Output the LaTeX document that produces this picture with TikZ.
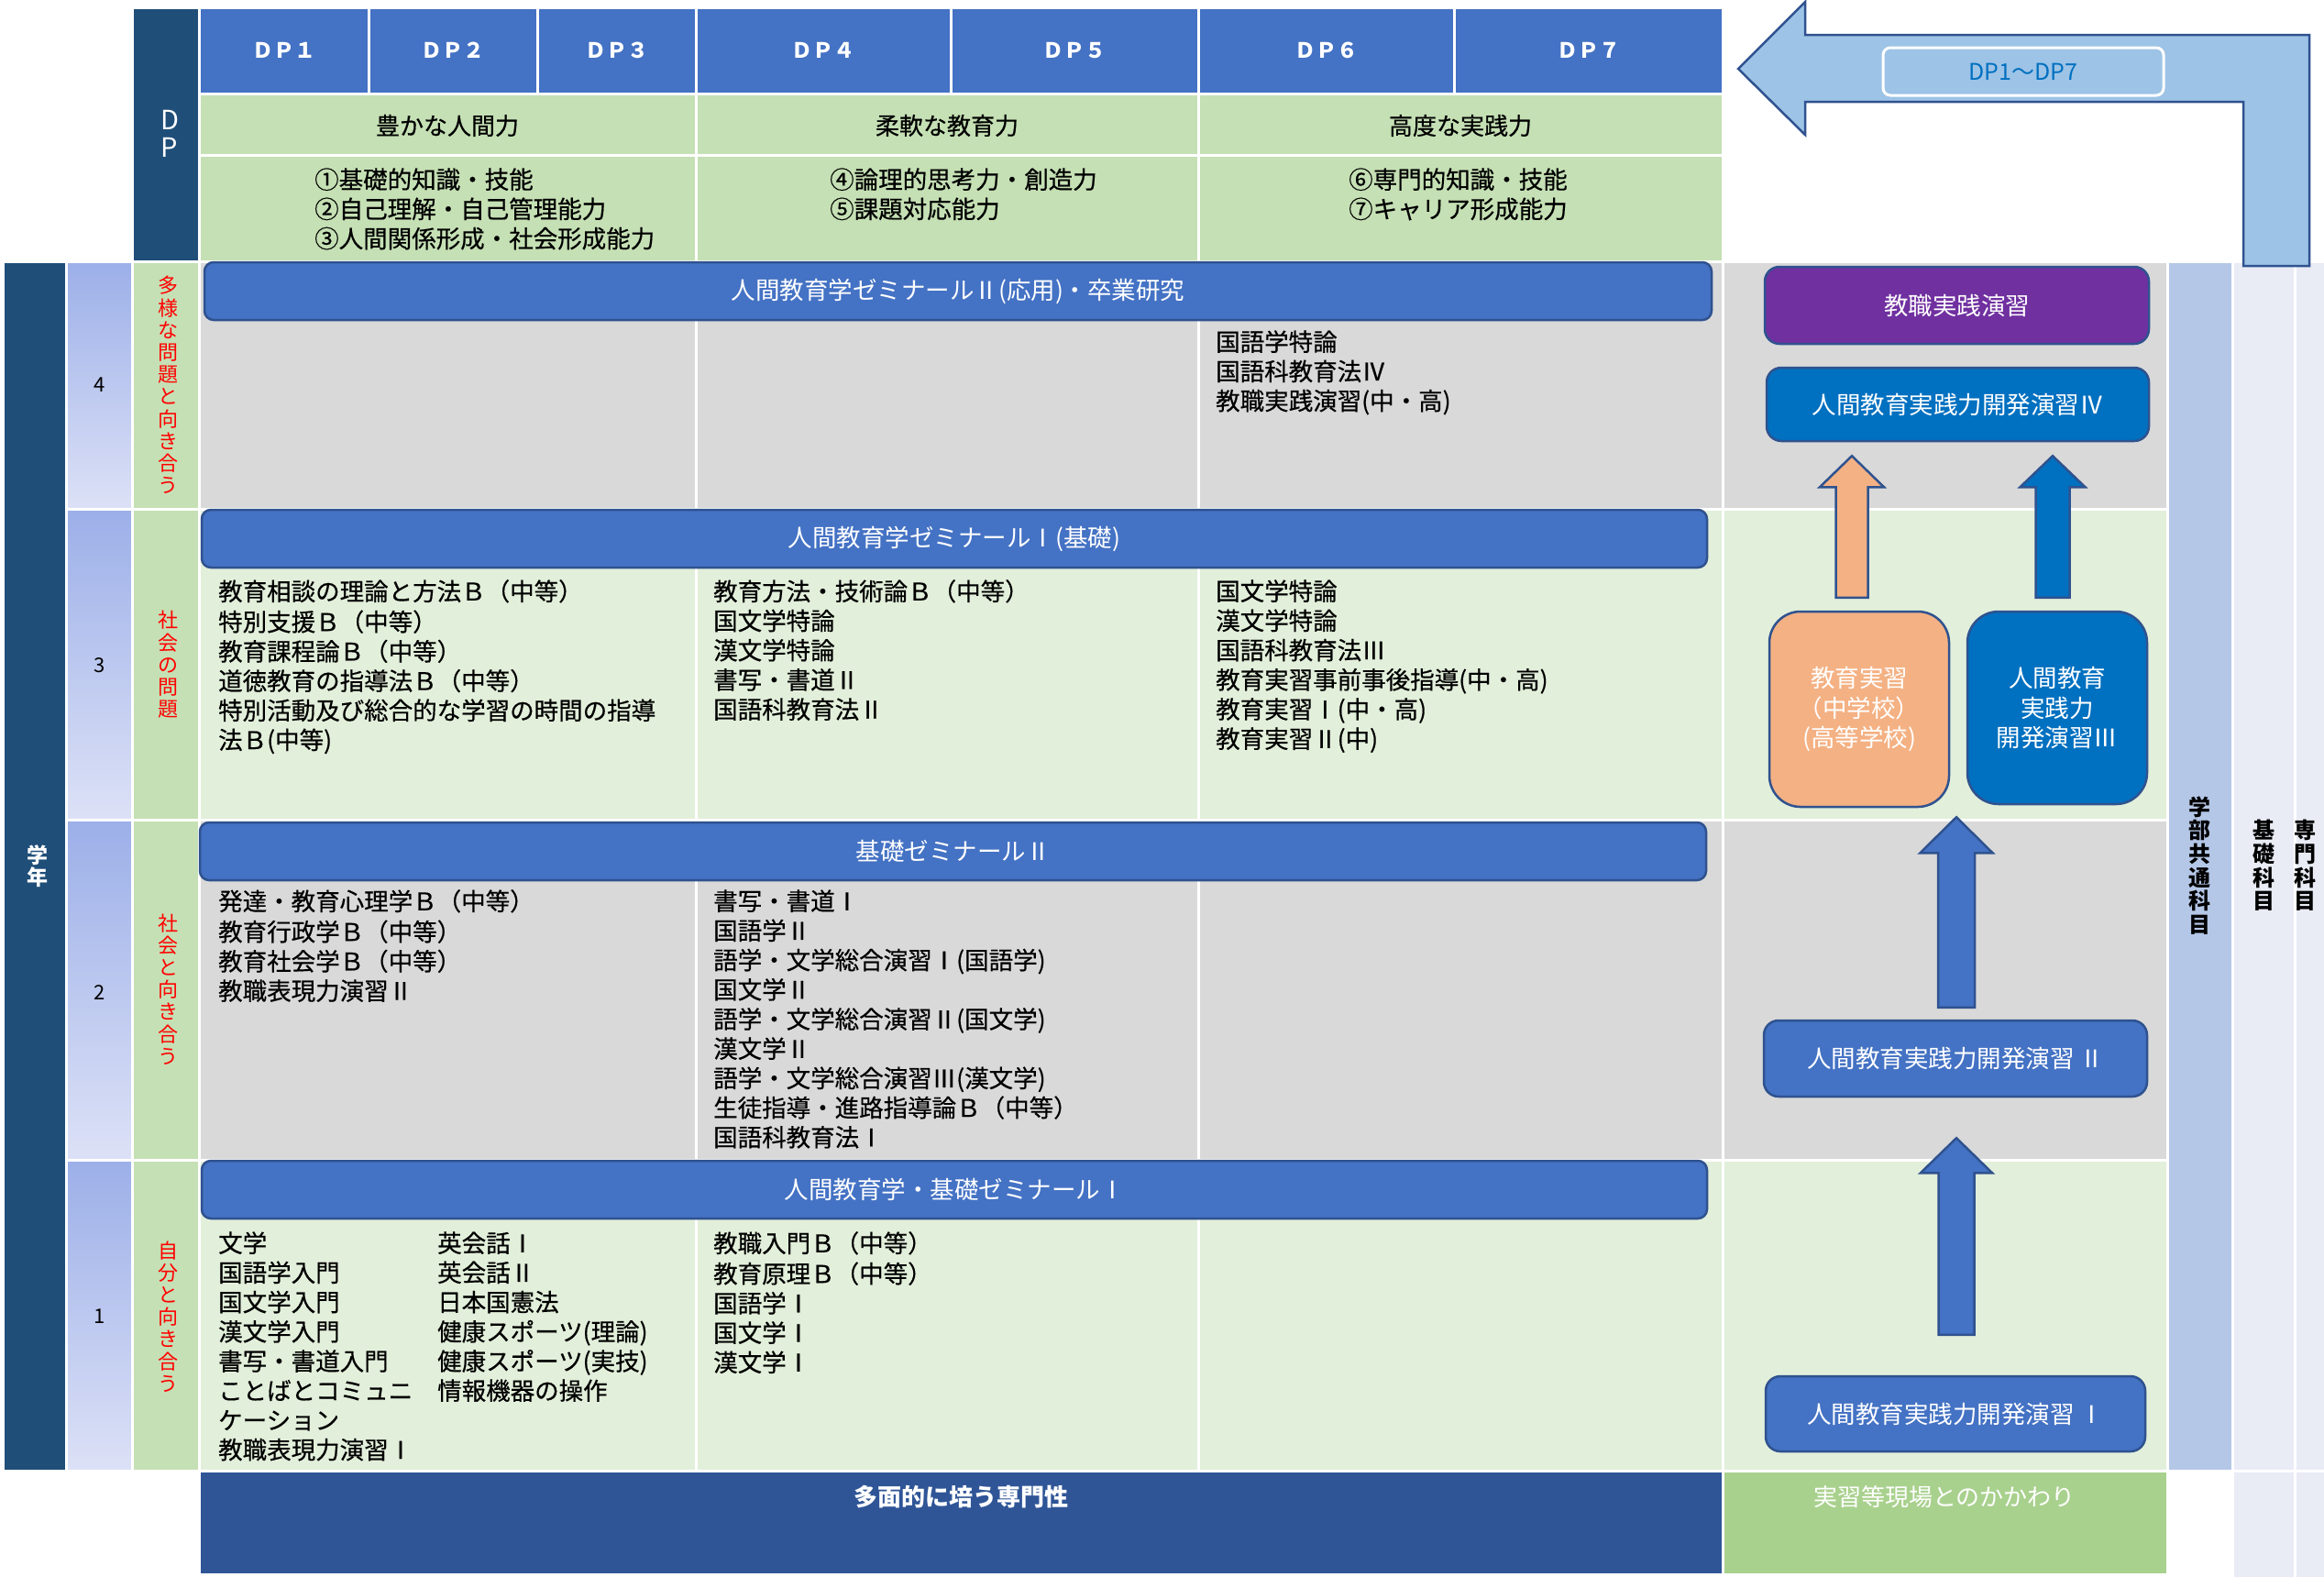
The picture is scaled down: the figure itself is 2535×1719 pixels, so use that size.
\documentclass[tikz,border=0pt]{standalone}
\usepackage{fontspec}
\setmainfont{Noto Sans CJK JP}
\newfontfamily\heavy{Noto Sans CJK JP}[FakeBold=0.5]
\usetikzlibrary{calc}

\definecolor{cNavy}{HTML}{1F4E79}
\definecolor{cHead}{HTML}{4472C4}
\definecolor{cEdge}{HTML}{2F528F}
\definecolor{cGreen}{HTML}{C5E0B4}
\definecolor{cPale}{HTML}{E2EFDA}
\definecolor{cGray}{HTML}{D9D9D9}
\definecolor{cDeep}{HTML}{2F5597}
\definecolor{cLeaf}{HTML}{A9D18E}
\definecolor{cCommon}{HTML}{B4C7E7}
\definecolor{cMist}{HTML}{E9EBF5}
\definecolor{cPurple}{HTML}{7030A0}
\definecolor{cOcean}{HTML}{0070C0}
\definecolor{cPeach}{HTML}{F4B183}
\definecolor{cSky}{HTML}{9DC3E6}
\definecolor{cYearTop}{HTML}{9CAFE8}
\definecolor{cYearBot}{HTML}{DCE1F6}
\definecolor{cRed}{HTML}{FF0000}

\newcommand\fs[2]{\fontsize{#1}{#2}\selectfont}

% upward block arrow: style, bottom point, tip point, half shaft, half head, head length
\newcommand\upblock[6]{%
  \path[#1] let \p1=(#2), \p2=(#3) in
    (\x2-#4pt,\y1) -- (\x2+#4pt,\y1) -- (\x2+#4pt,\y2-#6pt) -- (\x2+#5pt,\y2-#6pt)
    -- (\x2,\y2) -- (\x2-#5pt,\y2-#6pt) -- (\x2-#4pt,\y2-#6pt) -- cycle;}

\tikzset{
  gridcell/.style={draw=white, line width=3pt},
  dphead/.style={text=white, font=\fs{23}{26}\bfseries, inner sep=0pt},
  grouphead/.style={font=\heavy\fs{26}{30}, inner sep=0pt},
  course/.style={anchor=north west, align=left, inner sep=0pt, font=\heavy\fs{26.5}{32.2}},
  seminar/.style={rounded corners=10pt, fill=cHead, draw=cEdge, line width=2.5pt,
    text=white, font=\fs{26.5}{30}, inner sep=0pt},
  pbox/.style={rounded corners=16pt, draw=cEdge, line width=2.5pt, text=white,
    align=center, font=\fs{26.5}{32.5}, inner sep=0pt},
  stage/.style={text=cRed, align=center, inner sep=0pt, font=\fs{22}{24.2}},
  sidecap/.style={align=center, inner sep=0pt, font=\fs{24}{25.6}\bfseries},
  yearno/.style={inner sep=0pt, font=\fs{22}{24}},
  blockarrow/.style={draw=cEdge, line width=2.5pt, line join=miter},
}

\begin{document}
\begin{tikzpicture}[x=1pt,y=-1pt]
\useasboundingbox (0,0) rectangle (2535,1719);

% ---------- background grid ----------
\path[gridcell, fill=cNavy] (3,285) rectangle (72,1604);
\path[gridcell, fill=cNavy] (144,8) rectangle (217,285);

\foreach \a/\b in {285/555,555/894,894/1265,1265/1604} {
  \path[gridcell, top color=cYearTop, bottom color=cYearBot] (72,\a) rectangle (144,\b);
  \path[gridcell, fill=cGreen] (144,\a) rectangle (217,\b);
}

\foreach \a/\b in {217/402,402/586,586/759,759/1037,1037/1307,1307/1586,1586/1879}
  \path[gridcell, fill=cHead] (\a,8) rectangle (\b,102);
\foreach \a/\b in {217/759,759/1307,1307/1879} {
  \path[gridcell, fill=cGreen] (\a,102) rectangle (\b,169);
  \path[gridcell, fill=cGreen] (\a,169) rectangle (\b,285);
}

\foreach \a/\b/\c in {285/555/cGray,555/894/cPale,894/1265/cGray,1265/1604/cPale}
  \foreach \l/\r in {217/759,759/1307,1307/1879,1879/2364}
    \path[gridcell, fill=\c] (\l,\a) rectangle (\r,\b);

\path[gridcell, fill=cCommon] (2364,285) rectangle (2435,1604);
\path[gridcell, fill=cMist] (2435,285) rectangle (2503,1604);
\path[gridcell, fill=cMist] (2503,285) rectangle (2545,1604);
\path[gridcell, fill=cMist] (2435,1604) rectangle (2503,1722);
\path[gridcell, fill=cMist] (2503,1604) rectangle (2545,1722);

\path[gridcell, fill=cDeep] (217,1604) rectangle (1879,1717);
\path[gridcell, fill=cLeaf] (1879,1604) rectangle (2364,1717);

% ---------- left captions ----------
\node[text=white, align=center, inner sep=0pt, font=\fs{23}{24}\bfseries] (gakunen) at (41,945) {学\\年};
\node[text=white, align=center, inner sep=0pt, font=\fs{29}{30}] (dpcap) at (185,146) {D\\P};

\node[yearno] (yr4) at (109,420) {4};
\node[yearno] (yr3) at (109,726) {3};
\node[yearno] (yr2) at (109,1082) {2};
\node[yearno] (yr1) at (109,1436) {1};

\node[stage] (st4) at (183,420) {多\\様\\な\\問\\題\\と\\向\\き\\合\\う};
\node[stage] (st3) at (183,725) {社\\会\\の\\問\\題};
\node[stage] (st2) at (183,1079) {社\\会\\と\\向\\き\\合\\う};
\node[stage] (st1) at (183,1436) {自\\分\\と\\向\\き\\合\\う};

% ---------- DP header ----------
\node[dphead] (dp1) at (309.5,55) {ＤＰ１};
\node[dphead] (dp2) at (494,55) {ＤＰ２};
\node[dphead] (dp3) at (672.5,55) {ＤＰ３};
\node[dphead] (dp4) at (898,55) {ＤＰ４};
\node[dphead] (dp5) at (1172,55) {ＤＰ５};
\node[dphead] (dp6) at (1446.5,55) {ＤＰ６};
\node[dphead] (dp7) at (1732.5,55) {ＤＰ７};

\node[grouphead] (g1) at (488,137) {豊かな人間力};
\node[grouphead] (g2) at (1033,137) {柔軟な教育力};
\node[grouphead] (g3) at (1593,137) {高度な実践力};

\node[course] (ab1) at (343,183) {\strut ①基礎的知識・技能\\②自己理解・自己管理能力\\③人間関係形成・社会形成能力};
\node[course] (ab2) at (905,183) {\strut ④論理的思考力・創造力\\⑤課題対応能力};
\node[course] (ab3) at (1471,183) {\strut ⑥専門的知識・技能\\⑦キャリア形成能力};

% ---------- seminars ----------
\node[seminar, minimum width=1644, minimum height=63] (sem4) at (1045,317.5) {人間教育学ゼミナールⅡ(応用)・卒業研究};
\node[seminar, minimum width=1642, minimum height=63] (sem3) at (1041,587.5) {人間教育学ゼミナールⅠ(基礎)};
\node[seminar, minimum width=1643, minimum height=63] (sem2) at (1039.5,928.5) {基礎ゼミナールⅡ};
\node[seminar, minimum width=1642, minimum height=63] (sem1) at (1041,1297.5) {人間教育学・基礎ゼミナールⅠ};

% ---------- course lists ----------
\node[course] (c4c) at (1326,360) {\strut 国語学特論\\国語科教育法Ⅳ\\教職実践演習(中・高)};

\node[course] (c3a) at (238,632) {\strut 教育相談の理論と方法Ｂ（中等）\\特別支援Ｂ（中等）\\教育課程論Ｂ（中等）\\道徳教育の指導法Ｂ（中等）\\特別活動及び総合的な学習の時間の指導\\法Ｂ(中等)};
\node[course] (c3b) at (778,632) {\strut 教育方法・技術論Ｂ（中等）\\国文学特論\\漢文学特論\\書写・書道Ⅱ\\国語科教育法Ⅱ};
\node[course] (c3c) at (1326,632) {\strut 国文学特論\\漢文学特論\\国語科教育法Ⅲ\\教育実習事前事後指導(中・高)\\教育実習Ⅰ(中・高)\\教育実習Ⅱ(中)};

\node[course] (c2a) at (238,970) {\strut 発達・教育心理学Ｂ（中等）\\教育行政学Ｂ（中等）\\教育社会学Ｂ（中等）\\教職表現力演習Ⅱ};
\node[course] (c2b) at (778,970) {\strut 書写・書道Ⅰ\\国語学Ⅱ\\語学・文学総合演習Ⅰ(国語学)\\国文学Ⅱ\\語学・文学総合演習Ⅱ(国文学)\\漢文学Ⅱ\\語学・文学総合演習Ⅲ(漢文学)\\生徒指導・進路指導論Ｂ（中等）\\国語科教育法Ⅰ};

\node[course] (c1a) at (238,1343) {\strut 文学\\国語学入門\\国文学入門\\漢文学入門\\書写・書道入門\\ことばとコミュニ\\ケーション\\教職表現力演習Ⅰ};
\node[course] (c1b) at (477,1343) {\strut 英会話Ⅰ\\英会話Ⅱ\\日本国憲法\\健康スポーツ(理論)\\健康スポーツ(実技)\\情報機器の操作};
\node[course] (c1c) at (778,1343) {\strut 教職入門Ｂ（中等）\\教育原理Ｂ（中等）\\国語学Ⅰ\\国文学Ⅰ\\漢文学Ⅰ};

% ---------- bottom captions ----------
\node[text=white, inner sep=0pt, font=\fs{26}{30}\bfseries] (senmon) at (1048,1633) {多面的に培う専門性};
\node[text=white, inner sep=0pt, font=\fs{26}{30}] (genba) at (2121,1633) {実習等現場とのかかわり};

% ---------- side captions ----------
\node[sidecap] (kyotsu) at (2399,944) {学\\部\\共\\通\\科\\目};
\node[sidecap] (kiso) at (2469,944) {基\\礎\\科\\目};
\node[sidecap] (senmonka) at (2514,944) {専\\門\\科\\目};

% ---------- practice column ----------
\node[pbox, fill=cPurple, minimum width=419, minimum height=84] (kj) at (2134.5,333) {教職実践演習};
\node[pbox, fill=cOcean, minimum width=417, minimum height=80] (d4) at (2135.5,441) {人間教育実践力開発演習Ⅳ};
\node[pbox, fill=cPeach, rounded corners=34pt, minimum width=196, minimum height=213] (ex) at (2028,773.5) {教育実習\\（中学校）\\(高等学校)};
\node[pbox, fill=cOcean, rounded corners=34pt, minimum width=196, minimum height=210] (d3) at (2244,772) {人間教育\\実践力\\開発演習Ⅲ};
\node[pbox, fill=cHead, minimum width=418, minimum height=83] (d2) at (2133,1154.5) {人間教育実践力開発演習 Ⅱ};
\node[pbox, fill=cHead, minimum width=414, minimum height=82] (d1) at (2133,1542) {人間教育実践力開発演習 Ⅰ};

% arrow anchors
\coordinate (oa-b) at ($(ex.north)+(-8,-14)$);
\coordinate (oa-t) at ($(oa-b |- d4.south)+(0,15)$);
\coordinate (bb-b) at ($(d3.north)+(-5,-14)$);
\coordinate (bb-t) at ($(bb-b |- d4.south)+(0,15)$);
\coordinate (ba-b) at ($(d2.north)+(1,-13)$);
\coordinate (ba-t) at ($(ba-b |- ex.south)+(0,10)$);
\coordinate (bc-b) at ($(d1.north)+(1,-44)$);
\coordinate (bc-t) at ($(bc-b |- d2.south)+(0,44)$);

\upblock{blockarrow, fill=cPeach}{oa-b}{oa-t}{17.5}{35}{34}
\upblock{blockarrow, fill=cOcean}{bb-b}{bb-t}{18.5}{35.5}{34}
\upblock{blockarrow, fill=cHead}{ba-b}{ba-t}{20}{39.5}{39}
\upblock{blockarrow, fill=cHead}{bc-b}{bc-t}{19.5}{39}{38}

% ---------- bent arrow back to the DP header ----------
\draw[blockarrow, fill=cSky] (1896,75) -- (1969,2) -- (1969,38) -- (2519,38) -- (2519,290)
  -- (2447,290) -- (2447,111) -- (1969,111) -- (1969,147) -- cycle;
\node[draw=white, line width=3pt, fill=cSky, rounded corners=8pt, minimum width=306,
  minimum height=52, inner sep=0pt, text=cOcean, font=\fs{25}{28}] (dprange) at (2207,78) {DP1～DP7};

\end{tikzpicture}
\end{document}
